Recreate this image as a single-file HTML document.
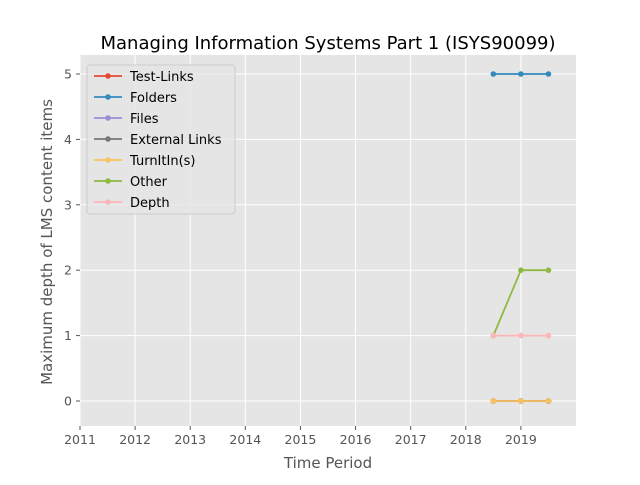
<!DOCTYPE html>
<html><head><meta charset="utf-8"><style>
body{margin:0;background:#fff;font-family:"Liberation Sans","DejaVu Sans",sans-serif;}
svg text{font-family:"DejaVu Sans","Liberation Sans",sans-serif;}
</style></head><body>
<svg id="chart" width="640" height="480" xmlns="http://www.w3.org/2000/svg"></svg>
<script>
const years = [2018.5, 2019, 2019.5];
const seriesNames = ["Test-Links","Folders","Files","External Links","TurnItIn(s)","Other","Depth"];
const testLinks = [0,0,0];
const folders = [5,5,5];
const files = [0,0,0];
const externalLinks = [0,0,0];
const turnitins = [0,0,0];
const other = [1,2,2];
const depth = [1,1,1];
const xTicks = [2011,2012,2013,2014,2015,2016,2017,2018,2019];
const yTicks = [0,1,2,3,4,5];
const colors = ["#E24A33","#348ABD","#988ED5","#777777","#FBC15E","#8EBA42","#FFB5B8"];
const allSeries = [testLinks,folders,files,externalLinks,turnitins,other,depth];

const NS="http://www.w3.org/2000/svg";
const svg=document.getElementById('chart');
const L=80,R=576,T=55,B=426;
const x=v=>L+(v-2011)/(2020-2011)*(R-L);
const y=v=>401-(v)*65.4;
function mk(tag,attrs,parent){const e=document.createElementNS(NS,tag);for(const k in attrs)e.setAttribute(k,attrs[k]);(parent||svg).appendChild(e);return e;}
let bg=mk('rect',{x:L,y:T,width:R-L,height:B-T,fill:'#E5E5E5'});


xTicks.forEach(t=>{
  let g=mk('line',{x1:x(t),x2:x(t),y1:T,y2:B,stroke:'#fff','stroke-width':1});
  
  
  mk('line',{x1:x(t),x2:x(t),y1:B,y2:B+4,stroke:'#555'});
  let tx=mk('text',{x:x(t),y:B+18,'text-anchor':'middle','font-size':12.5,fill:'#555'});
  tx.textContent=t;
  
  
});
yTicks.forEach(t=>{
  let g=mk('line',{x1:L,x2:R,y1:y(t),y2:y(t),stroke:'#fff','stroke-width':1});
  
  
  mk('line',{x1:L-4,x2:L,y1:y(t),y2:y(t),stroke:'#555'});
  let tx=mk('text',{x:L-8,y:y(t)+4.5,'text-anchor':'end','font-size':12.5,fill:'#555'});
  tx.textContent=t;
  
  
});
allSeries.forEach((s,i)=>{
  let p=mk('polyline',{points:s.map((v,j)=>x(years[j])+','+y(v)).join(' '),fill:'none',stroke:colors[i],'stroke-width':1.8});
  
  
  s.forEach((v,j)=>{
    let c=mk('circle',{cx:x(years[j]),cy:y(v),r:2.8,fill:colors[i]});
    
    
  });
});
let t=mk('text',{x:328,y:49,'text-anchor':'middle','font-size':18,fill:'#000'});
t.textContent='Managing Information Systems Part 1 (ISYS90099)';


let xl=mk('text',{x:328,y:468,'text-anchor':'middle','font-size':15,fill:'#555'});
xl.textContent='Time Period';


let yl=mk('text',{x:0,y:0,'text-anchor':'middle','font-size':15,fill:'#555',transform:'translate(52,242) rotate(-90)'});
yl.textContent='Maximum depth of LMS content items';


let lg=mk('g',{});


mk('rect',{x:87,y:65,width:148,height:149,rx:3,fill:'#E5E5E5',stroke:'#ccc','fill-opacity':0.8},lg);
seriesNames.forEach((n,i)=>{
  const yy=76+i*21;
  let e=mk('g',{},lg);
  
  
  mk('line',{x1:94,x2:122,y1:yy,y2:yy,stroke:colors[i],'stroke-width':1.8},e);
  mk('circle',{cx:108,cy:yy,r:2.8,fill:colors[i]},e);
  let tx=mk('text',{x:130,y:yy+5,'font-size':13,fill:'#000'},e);
  tx.textContent=n;
});
</script>
</body></html>
